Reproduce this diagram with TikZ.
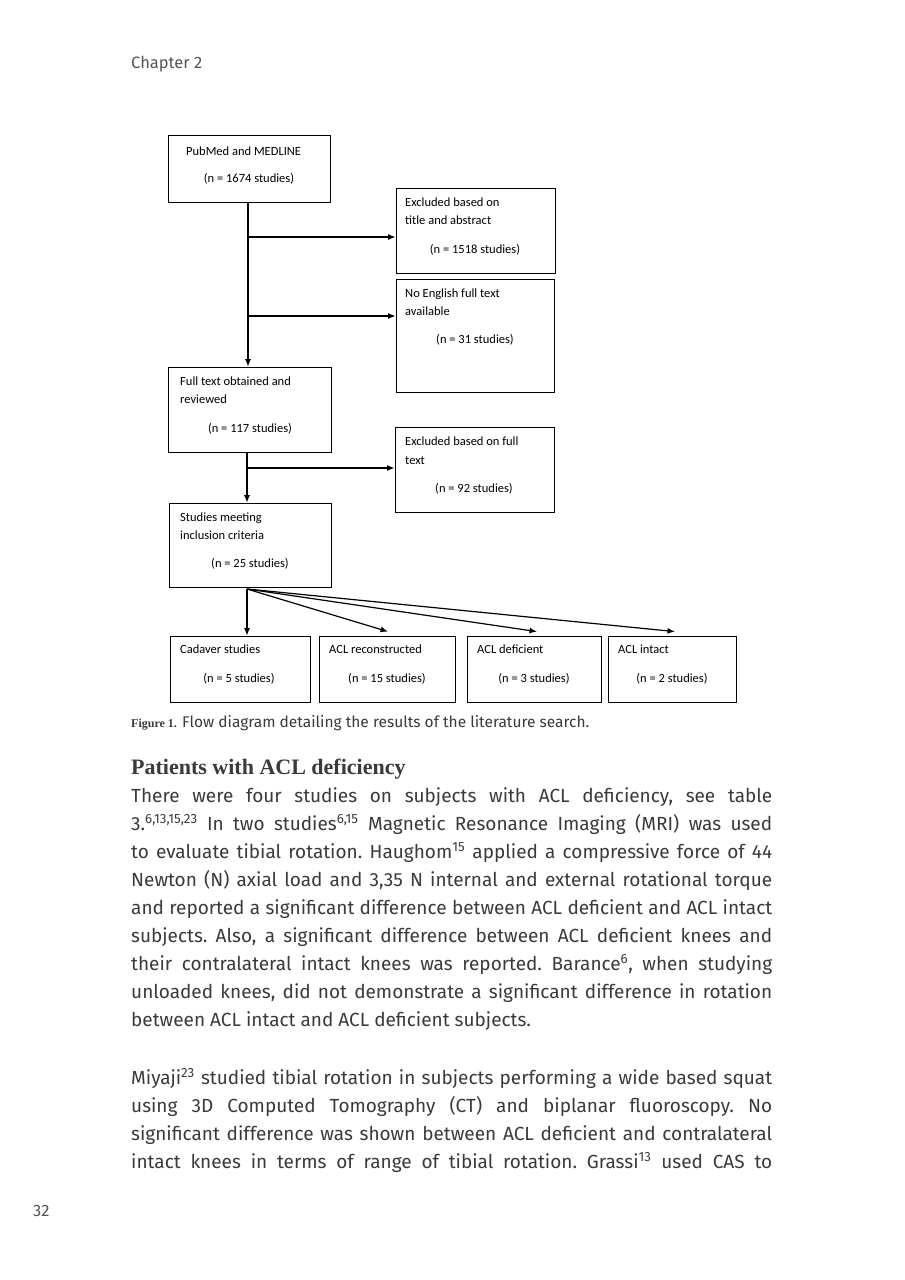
\documentclass[tikz,border=0pt]{standalone}
\usepackage{fontspec}
\setmainfont{Fira Sans}
\newfontfamily\boxfont{Carlito}
\newfontfamily\headfont{Liberation Serif}
\usetikzlibrary{arrows.meta}
\definecolor{bodygray}{HTML}{3A3A3A}
\definecolor{chapgray}{HTML}{555555}
\newcommand{\jline}[1]{\makebox[641pt][s]{#1}}
\frenchspacing
\begin{document}
\begin{tikzpicture}[x=1pt,y=-1pt,
  fbox/.style={draw=black, line width=0.8pt, inner sep=0pt, fill=none},
  btxt/.style={anchor=base west, inner sep=0pt, font=\boxfont\fontsize{12.5}{15}\selectfont, text=black},
  bnum/.style={anchor=base, inner sep=0pt, font=\boxfont\fontsize{12.5}{15}\selectfont, text=black},
  arr/.style={line width=1.2pt, -{Latex[length=7.5pt,width=6pt]}},
  body/.style={anchor=base west, inner sep=0pt, font=\fontsize{19}{22}\selectfont, text=bodygray}]
\fill[white] (0,0) rectangle (905,1280);
\useasboundingbox (0,0) rectangle (905,1280);

\node[anchor=base west, inner sep=0pt, font=\fontsize{16.5}{19}\selectfont, text=chapgray] (chap) at (131,68) {Chapter 2};

% boxes
\node[fbox, minimum width=162pt, minimum height=67pt] (pub) at (249,168.5) {};
\node[fbox, minimum width=159pt, minimum height=85pt] (ex1) at (475.5,230.5) {};
\node[fbox, minimum width=158pt, minimum height=113pt] (ex2) at (475,335.5) {};
\node[fbox, minimum width=163pt, minimum height=85pt] (full) at (249.5,409.5) {};
\node[fbox, minimum width=159pt, minimum height=85pt] (ex3) at (474.5,469.5) {};
\node[fbox, minimum width=162pt, minimum height=84pt] (stud) at (250,545) {};
\node[fbox, minimum width=140pt, minimum height=66pt] (cad) at (240,669) {};
\node[fbox, minimum width=136pt, minimum height=66pt] (rec) at (387,669) {};
\node[fbox, minimum width=134pt, minimum height=66pt] (def) at (534,669) {};
\node[fbox, minimum width=128pt, minimum height=66pt] (int) at (672,669) {};

% box texts
\node[btxt] (pubA) at (186,155) {PubMed and MEDLINE};
\node[bnum] (pubB) at (249,182) {(n = 1674 studies)};
\node[btxt] (ex1A) at (405,206) {Excluded based on};
\node[btxt] (ex1B) at (405,224) {title and abstract};
\node[bnum] (ex1C) at (475,253) {(n = 1518 studies)};
\node[btxt] (ex2A) at (405,297) {No English full text};
\node[btxt] (ex2B) at (405,315) {available};
\node[bnum] (ex2C) at (475,343) {(n = 31 studies)};
\node[btxt] (fullA) at (180,385) {Full text obtained and};
\node[btxt] (fullB) at (180,403) {reviewed};
\node[bnum] (fullC) at (250,432) {(n = 117 studies)};
\node[btxt] (ex3A) at (405,445) {Excluded based on full};
\node[btxt] (ex3B) at (405,464) {text};
\node[bnum] (ex3C) at (474,492) {(n = 92 studies)};
\node[btxt] (studA) at (180,521) {Studies meeting};
\node[btxt] (studB) at (180,539) {inclusion criteria};
\node[bnum] (studC) at (250,567) {(n = 25 studies)};
\node[btxt] (cadA) at (180,653) {Cadaver studies};
\node[bnum] (cadB) at (239,682) {(n = 5 studies)};
\node[btxt] (recA) at (329,653) {ACL reconstructed};
\node[bnum] (recB) at (387,682) {(n = 15 studies)};
\node[btxt] (defA) at (477,653) {ACL deficient};
\node[bnum] (defB) at (534,682) {(n = 3 studies)};
\node[btxt] (intA) at (618,653) {ACL intact};
\node[bnum] (intB) at (672,682) {(n = 2 studies)};

% connectors
\coordinate (p0) at (248,202);
\coordinate (j1) at (248,237);
\coordinate (j2) at (248,316);
\coordinate (f0) at (247,452);
\coordinate (j3) at (247,468);
\coordinate (s0) at (247,589);
\draw[arr] (p0) -- (p0 |- full.north);
\draw[arr] (j1) -- (ex1.west |- j1);
\draw[arr] (j2) -- (ex2.west |- j2);
\draw[arr] (f0) -- (f0 |- stud.north);
\draw[arr] (j3) -- (ex3.west |- j3);
\draw[arr] (s0) -- (s0 |- cad.north);
\draw[arr] (s0) -- ([xshift=1pt,yshift=4pt]rec.north);
\draw[arr] (s0) -- ([xshift=3pt,yshift=4pt]def.north);
\draw[arr] (s0) -- ([xshift=3pt,yshift=4pt]int.north);

% caption
\node[anchor=base west, inner sep=0pt, font=\headfont\bfseries\fontsize{12}{14}\selectfont, text=bodygray] (capA) at (131,727) {Figure 1.};
\node[anchor=base west, inner sep=0pt, font=\fontsize{15.5}{18}\selectfont, text=bodygray] (capB) at (182,727) {Flow diagram detailing the results of the literature search.};

% heading
\node[anchor=base west, inner sep=0pt, font=\headfont\bfseries\fontsize{22}{25}\selectfont, text=bodygray] (head) at (131,774) {Patients with ACL deficiency};

% body paragraph 1
\node[body] (l1) at (131,802) {\jline{There were four studies on subjects with ACL deficiency, see table}};
\node[body] (l2) at (131,830) {\jline{3.\textsuperscript{6,13,15,23} In two studies\textsuperscript{6,15} Magnetic Resonance Imaging (MRI) was used}};
\node[body] (l3) at (131,858) {\jline{to evaluate tibial rotation. Haughom\textsuperscript{15} applied a compressive force of 44}};
\node[body] (l4) at (131,886) {\jline{Newton (N) axial load and 3,35 N internal and external rotational torque}};
\node[body] (l5) at (131,914) {\jline{and reported a significant difference between ACL deficient and ACL intact}};
\node[body] (l6) at (131,942) {\jline{subjects. Also, a significant difference between ACL deficient knees and}};
\node[body] (l7) at (131,970) {\jline{their contralateral intact knees was reported. Barance\textsuperscript{6}, when studying}};
\node[body] (l8) at (131,998) {\jline{unloaded knees, did not demonstrate a significant difference in rotation}};
\node[body] (l9) at (131,1026) {between ACL intact and ACL deficient subjects.};

% body paragraph 2
\node[body] (m1) at (131,1084) {\jline{Miyaji\textsuperscript{23} studied tibial rotation in subjects performing a wide based squat}};
\node[body] (m2) at (131,1112) {\jline{using 3D Computed Tomography (CT) and biplanar fluoroscopy. No}};
\node[body] (m3) at (131,1140) {\jline{significant difference was shown between ACL deficient and contralateral}};
\node[body] (m4) at (131,1168) {\jline{intact knees in terms of range of tibial rotation. Grassi\textsuperscript{13} used CAS to}};

\node[anchor=base west, inner sep=0pt, font=\fontsize{16.5}{19}\selectfont, text=chapgray] (pnum) at (33,1216) {32};
\end{tikzpicture}
\end{document}
